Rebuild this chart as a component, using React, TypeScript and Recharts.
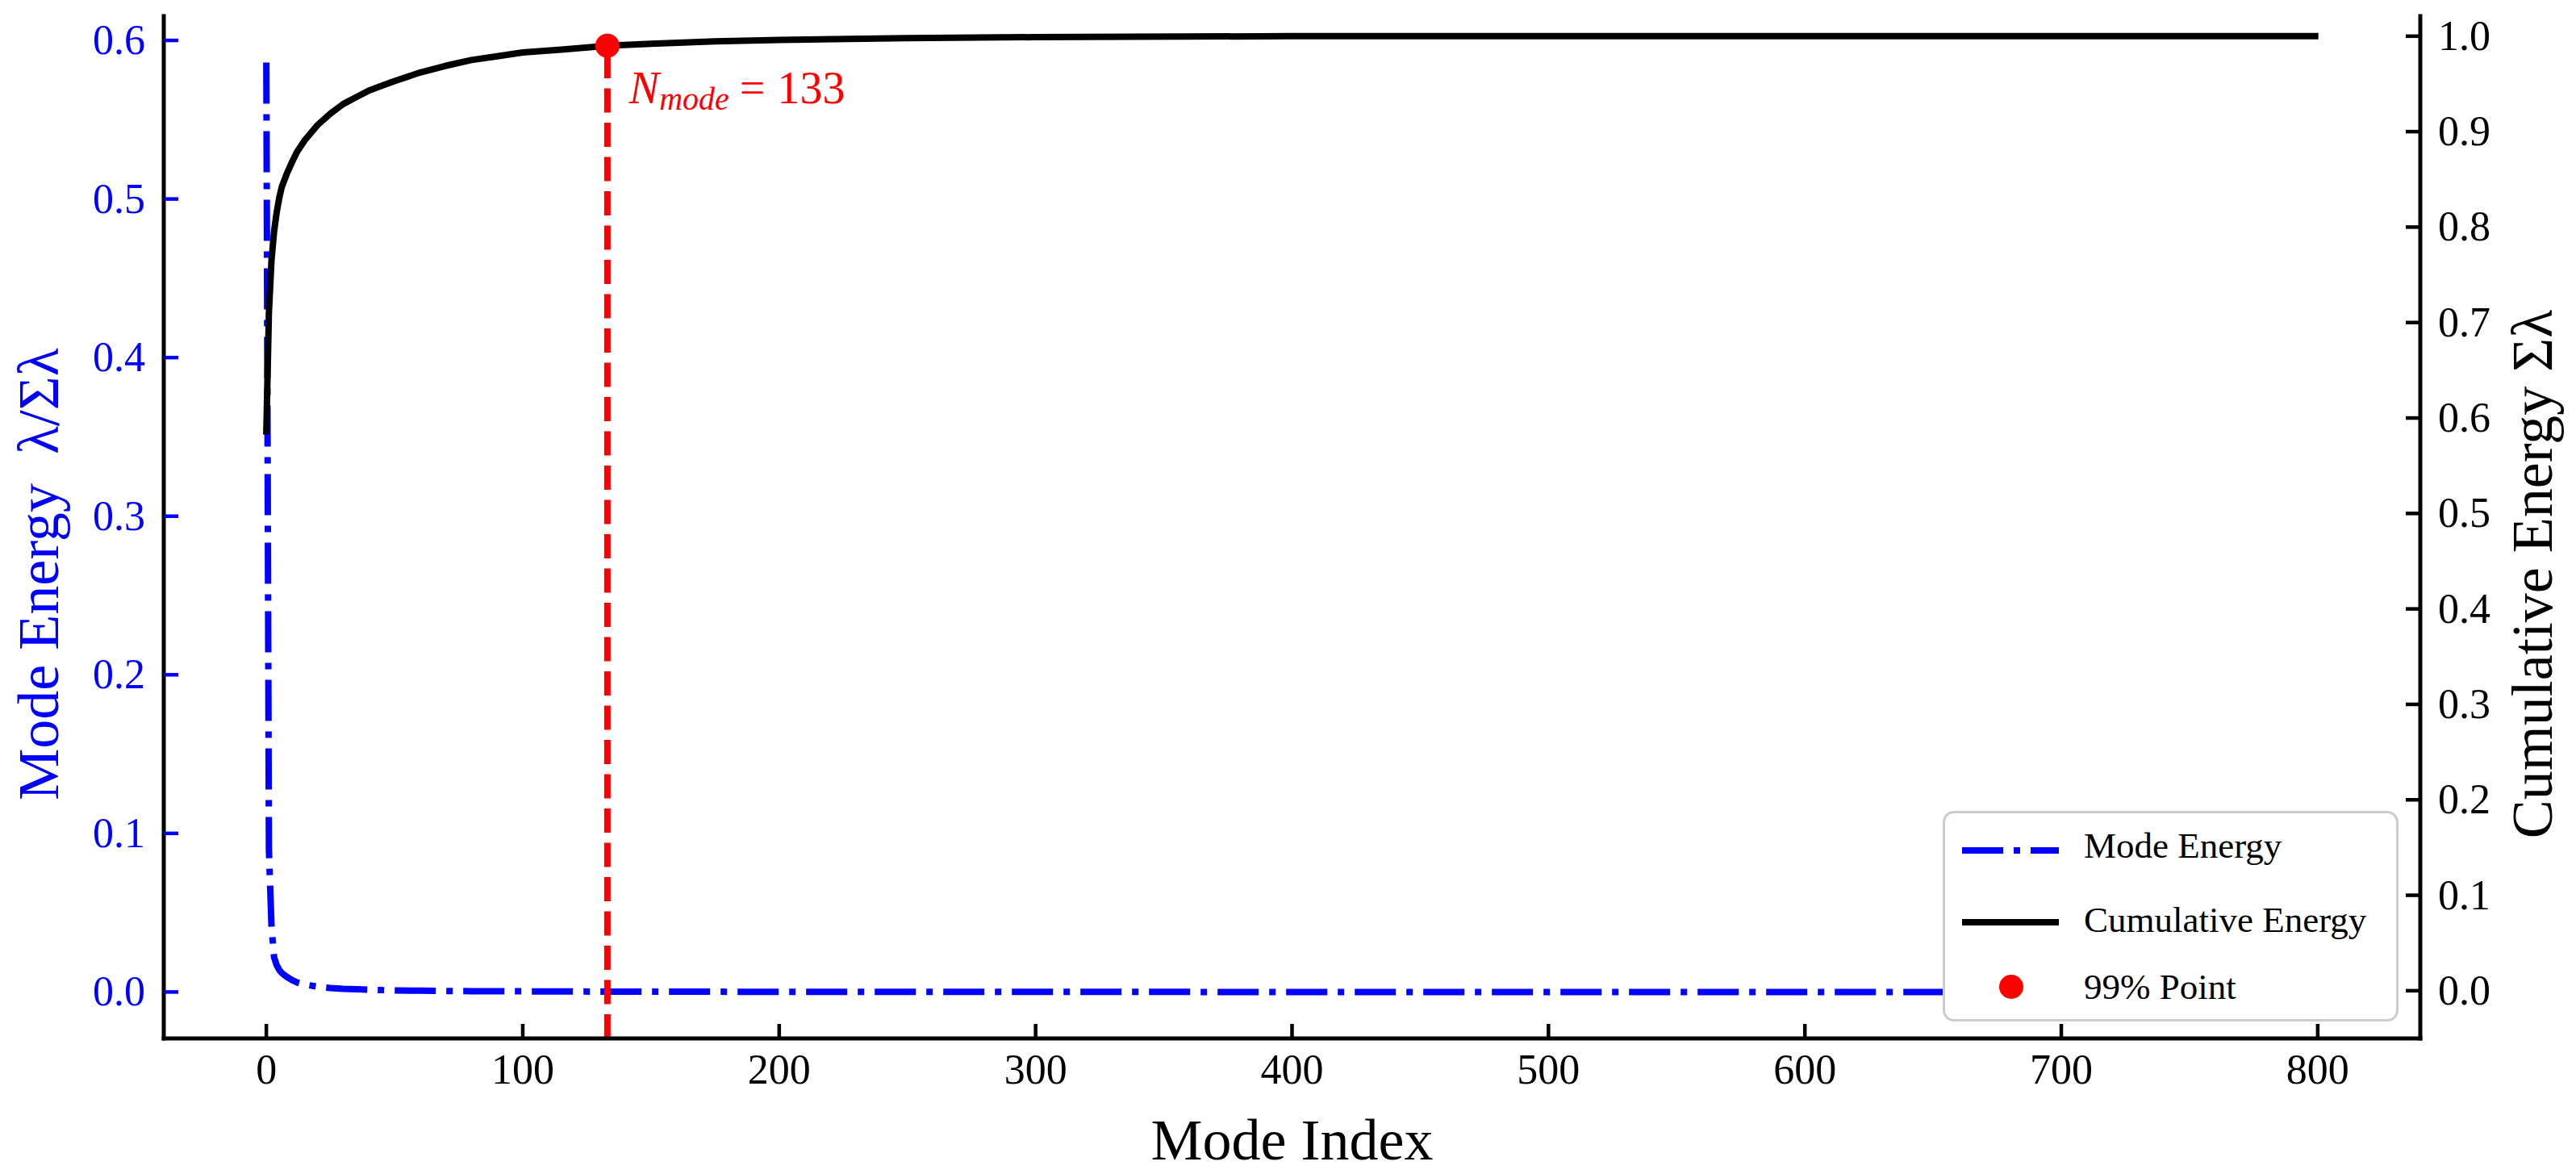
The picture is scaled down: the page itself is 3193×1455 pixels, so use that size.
import { LineChart, Line, XAxis, YAxis, ReferenceLine, ReferenceDot, Legend } from 'recharts';

const FONT = "'Liberation Serif', 'Times New Roman', serif";
const BLUE = '#0000ff';
const RED = '#ff0000';
const TICK_LEN = 18;

const modeIdx = [0, 1, 2, 3, 4, 5, 6, 8, 10, 12, 15, 20, 25, 30, 35, 40, 45, 50, 60, 70, 80, 90, 100, 115, 133, 150, 175, 200, 250, 300, 400, 500, 600, 700, 799];
// normalised mode energy  λ/Σλ
const modeEnergy = [0.586, 0.09, 0.042, 0.022, 0.017, 0.014, 0.012, 0.0095, 0.0075, 0.006, 0.0047, 0.0033, 0.0025, 0.002, 0.0017, 0.0014, 0.0012, 0.001, 0.0008, 0.0006, 0.0005, 0.00045, 0.0004, 0.0003, 0.00025, 0.0002, 0.00015, 0.0001, 0.00005, 0.00003, 0.00001, 0, 0, 0, 0];
// cumulative energy  Σλ
const cumEnergy = [0.586, 0.71, 0.765, 0.795, 0.815, 0.83, 0.842, 0.856, 0.868, 0.879, 0.891, 0.907, 0.919, 0.929, 0.936, 0.943, 0.948, 0.953, 0.962, 0.969, 0.975, 0.979, 0.983, 0.986, 0.99, 0.992, 0.9945, 0.996, 0.998, 0.999, 1.0, 1.0, 1.0, 1.0, 1.0];

const nMode = 133;
const nModeCum = 0.99;

const xTicks = [0, 100, 200, 300, 400, 500, 600, 700, 800];
const leftTicks = [0, 0.1, 0.2, 0.3, 0.4, 0.5, 0.6];
const rightTicks = [0, 0.1, 0.2, 0.3, 0.4, 0.5, 0.6, 0.7, 0.8, 0.9, 1.0];

const legendItems = ['Mode Energy', 'Cumulative Energy', '99% Point'];

const modeData = modeIdx.map((x, i) => ({ x, y: modeEnergy[i] }));
const cumData = modeIdx.map((x, i) => ({ x, y: cumEnergy[i] }));

const BottomTick = ({ x, y, payload }: any) => (
  <g>
    <line x1={x} x2={x} y1={y} y2={y - TICK_LEN} stroke="#000" strokeWidth={4.5} />
    <text x={x} y={y + 56} textAnchor="middle" fontSize={52} fontFamily={FONT} fill="#000">{payload.value}</text>
  </g>
);

const LeftTick = ({ x, y, payload }: any) => (
  <g>
    <line x1={x} x2={x + TICK_LEN} y1={y} y2={y} stroke={BLUE} strokeWidth={4.5} />
    <text x={x - 23} y={y + 17} textAnchor="end" fontSize={52} fontFamily={FONT} fill={BLUE}>{payload.value.toFixed(1)}</text>
  </g>
);

const RightTick = ({ x, y, payload }: any) => (
  <g>
    <line x1={x} x2={x - TICK_LEN} y1={y} y2={y} stroke="#000" strokeWidth={4.5} />
    <text x={x + 22} y={y + 17} textAnchor="start" fontSize={52} fontFamily={FONT} fill="#000">{payload.value.toFixed(1)}</text>
  </g>
);

const XLabel = ({ viewBox }: any) => (
  <text x={viewBox.x + viewBox.width / 2} y={viewBox.y + 150} textAnchor="middle" fontSize={72} fontFamily={FONT} fill="#000">
    Mode Index
  </text>
);

const LeftLabel = ({ viewBox }: any) => {
  const cx = viewBox.x + 72;
  const cy = viewBox.y + viewBox.height / 2 + 58;
  return (
    <text x={cx} y={cy} transform={`rotate(-90 ${cx} ${cy})`} textAnchor="middle" fontSize={72} fontFamily={FONT} fill={BLUE} style={{ whiteSpace: 'pre' }}>
      {'Mode Energy  λ/Σλ'}
    </text>
  );
};

const RightLabel = ({ viewBox }: any) => {
  const cx = viewBox.x + 163;
  const cy = viewBox.y + viewBox.height / 2 + 58;
  return (
    <text x={cx} y={cy} transform={`rotate(-90 ${cx} ${cy})`} textAnchor="middle" fontSize={72} fontFamily={FONT} fill="#000">
      Cumulative Energy Σλ
    </text>
  );
};

const NmodeLabel = ({ viewBox }: any) => {
  const cx = viewBox.x + viewBox.width / 2;
  const cy = viewBox.y + viewBox.height / 2;
  return (
    <text x={cx + 27} y={cy + 71} fill={RED} fontFamily={FONT} fontSize={56}>
      <tspan fontStyle="italic">N</tspan>
      <tspan fontStyle="italic" fontSize={40} dy={8}>mode</tspan>
      <tspan dy={-8} dx={13}>=</tspan>
      <tspan dx={15}>{nMode}</tspan>
    </text>
  );
};

const LegendBox = () => (
  <div
    style={{
      width: 565,
      height: 261,
      boxSizing: 'border-box',
      border: '3px solid #cccccc',
      borderRadius: 14,
      background: '#fff',
      position: 'relative',
    }}
  >
    <svg width={559} height={255} style={{ position: 'absolute', left: 0, top: 0 }}>
      <line x1={21} x2={141} y1={46} y2={46} stroke={BLUE} strokeWidth={8} strokeDasharray="51 13 8 13" />
      <line x1={21} x2={141} y1={135} y2={135} stroke="#000" strokeWidth={8} />
      <circle cx={82} cy={215} r={15} fill={RED} />
      {legendItems.map((name, i) => (
        <text key={name} x={172} y={[55, 147, 230][i]} fontSize={45} fontFamily={FONT} fill="#000">
          {name}
        </text>
      ))}
    </svg>
  </div>
);

export default function App() {
  return (
    <div style={{ position: 'absolute', left: 0, top: 0, background: '#fff' }}>
      <LineChart width={3193} height={1455} margin={{ top: 20, right: 0, bottom: 0, left: 0 }}>
        <XAxis
          xAxisId="b"
          type="number"
          dataKey="x"
          domain={[-40, 840]}
          allowDataOverflow
          ticks={xTicks}
          height={168}
          tickSize={0}
          tickMargin={0}
          tickLine={false}
          axisLine={{ stroke: '#000', strokeWidth: 5, strokeLinecap: 'square' }}
          tick={<BottomTick />}
          label={<XLabel />}
        />
        <XAxis
          xAxisId="t"
          orientation="top"
          type="number"
          domain={[-40, 840]}
          allowDataOverflow
          height={0}
          tick={false}
          tickLine={false}
          axisLine={{ stroke: '#000', strokeWidth: 5, strokeLinecap: 'square' }}
        />
        <YAxis
          yAxisId="l"
          type="number"
          domain={[-0.0293, 0.6153]}
          allowDataOverflow
          ticks={leftTicks}
          width={203}
          tickSize={0}
          tickMargin={0}
          tickLine={false}
          axisLine={{ stroke: '#000', strokeWidth: 5, strokeLinecap: 'square' }}
          tick={<LeftTick />}
          label={<LeftLabel />}
        />
        <YAxis
          yAxisId="r"
          orientation="right"
          type="number"
          domain={[-0.05, 1.021]}
          allowDataOverflow
          ticks={rightTicks}
          width={193}
          tickSize={0}
          tickMargin={0}
          tickLine={false}
          axisLine={{ stroke: '#000', strokeWidth: 5, strokeLinecap: 'square' }}
          tick={<RightTick />}
          label={<RightLabel />}
        />
        <Line
          data={modeData}
          dataKey="y"
          xAxisId="b"
          yAxisId="l"
          type="linear"
          stroke={BLUE}
          strokeWidth={8}
          strokeDasharray="51 13 8 13"
          strokeLinejoin="round"
          dot={false}
          activeDot={false}
          isAnimationActive={false}
        />
        <Line
          data={cumData}
          dataKey="y"
          xAxisId="b"
          yAxisId="r"
          type="linear"
          stroke="#000"
          strokeWidth={8}
          strokeLinecap="square"
          strokeLinejoin="round"
          dot={false}
          activeDot={false}
          isAnimationActive={false}
        />
        <ReferenceLine
          xAxisId="b"
          yAxisId="r"
          segment={[{ x: nMode, y: -0.05 }, { x: nMode, y: nModeCum }]}
          stroke={RED}
          strokeWidth={8}
          strokeDasharray="30 12.5"
          ifOverflow="visible"
        />
        <ReferenceDot
          xAxisId="b"
          yAxisId="r"
          x={nMode}
          y={nModeCum}
          r={15}
          fill={RED}
          stroke="none"
          ifOverflow="visible"
          label={<NmodeLabel />}
        />
        <Legend
          layout="horizontal"
          verticalAlign="middle"
          align="center"
          content={<LegendBox />}
          wrapperStyle={{ left: 2408, top: 1005, width: 565, height: 261 }}
        />
      </LineChart>
    </div>
  );
}
